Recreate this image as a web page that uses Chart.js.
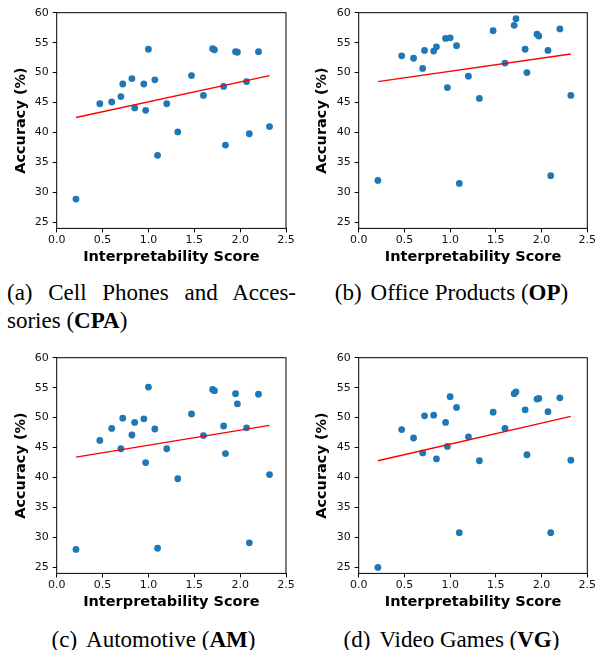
<!DOCTYPE html>
<html><head><meta charset="utf-8">
<script src="https://cdn.jsdelivr.net/npm/chart.js@4.4.0/dist/chart.umd.min.js"></script>
<style>
html,body{margin:0;padding:0;background:#fff;}
body{width:603px;height:650px;position:relative;overflow:hidden;}
canvas{position:absolute;}
.cap{position:absolute;font-family:"Liberation Serif","Times New Roman",serif;font-size:23px;line-height:28px;color:#000;white-space:nowrap;}
.gap{display:inline-block;width:9px;}
</style></head><body>
<canvas id="c1" width="300" height="266" style="left:0;top:0"></canvas>
<canvas id="c2" width="303" height="266" style="left:300px;top:0"></canvas>
<canvas id="c3" width="300" height="266" style="left:0;top:344.6px"></canvas>
<canvas id="c4" width="303" height="266" style="left:300px;top:344.6px"></canvas>

<div class="cap" style="left:7px;top:279px;width:289px;text-align:justify;text-align-last:justify;">(a) Cell Phones and Acces-</div>
<div class="cap" style="left:7px;top:307px;">sories (<b>CPA</b>)</div>
<div class="cap" style="left:300px;top:279px;width:303px;text-align:center;">(b)<span class="gap"></span>Office Products (<b>OP</b>)</div>
<div class="cap" style="left:0;top:625.5px;width:307px;text-align:center;">(c)<span class="gap"></span>Automotive (<b>AM</b>)</div>
<div class="cap" style="left:300px;top:625.5px;width:303px;text-align:center;">(d)<span class="gap"></span>Video Games (<b>VG</b>)</div>

<script>
// Interpretability scores (shared x values for all four panels)
const xScores = [0.21,0.47,0.60,0.70,0.72,0.82,0.85,0.95,0.97,1.00,1.07,1.10,1.20,1.32,1.47,1.60,1.70,1.72,1.82,1.84,1.95,1.97,2.07,2.10,2.20,2.32];
// Accuracy (%) per dataset
const accCPA = [28.9,44.8,45.1,46.0,48.1,49.0,44.1,48.1,43.7,53.9,48.8,36.2,44.8,40.1,49.5,46.2,54.0,53.8,47.7,37.9,53.5,53.4,48.5,39.8,53.5,41.0];
const accOP  = [32.0,52.8,52.4,50.7,53.7,53.6,54.3,55.7,47.5,55.8,54.5,31.5,49.4,45.7,57.0,51.6,57.9,59.0,53.9,50.0,56.4,56.1,53.7,32.8,57.3,46.2];
const accAM  = [28.0,46.2,48.2,44.8,49.9,47.1,49.2,49.8,42.5,55.1,48.1,28.2,44.8,39.8,50.6,47.0,54.7,54.5,48.6,44.0,54.0,52.3,48.3,29.1,53.9,40.5];
const accVG  = [25.0,48.0,46.6,44.1,50.3,50.4,43.1,49.2,45.2,53.5,51.7,30.8,46.8,42.8,50.9,48.2,54.0,54.3,51.3,43.8,53.1,53.2,51.0,30.8,53.3,42.9];
// Fitted trend line end points
const trendX   = [0.21, 2.32];
const trendCPA = [42.5, 49.5];
const trendOP  = [48.5, 53.1];
const trendAM  = [43.4, 48.7];
const trendVG  = [42.8, 50.2];
// Axis ticks
const xTicks = [0.0,0.5,1.0,1.5,2.0,2.5];
const yTicks = [25,30,35,40,45,50,55,60];
const xLabel = 'Interpretability Score';
const yLabel = 'Accuracy (%)';

const frame = {
  id:'frame',
  afterDatasetsDraw(chart){
    const {ctx, chartArea:a} = chart;
    ctx.save();
    ctx.strokeStyle = '#000';
    ctx.lineWidth = 1;
    ctx.strokeRect(a.left, a.top, a.right - a.left, a.bottom - a.top);
    ctx.restore();
  }
};

function makeChart(id, ys, trendY, g){
  const pts = xScores.map((x,i)=>({x:x, y:ys[i]}));
  const line = trendX.map((x,i)=>({x:x, y:trendY[i]}));
  const tickFont = {family:'DejaVu Sans', size:11};
  const titleFont = {family:'DejaVu Sans', size:14.5, weight:'bold'};
  const grid = {drawOnChartArea:false, drawTicks:true, tickLength:4, tickColor:'#000', color:'#000', lineWidth:1};
  return new Chart(document.getElementById(id), {
    type:'scatter',
    data:{datasets:[
      {type:'line', data:line, borderColor:'#ff0000', borderWidth:1.4, pointRadius:0, fill:false, order:0},
      {type:'scatter', data:pts, backgroundColor:'#1f77b4', borderColor:'#1f77b4', borderWidth:0, pointRadius:3.4, order:1}
    ]},
    options:{
      responsive:false, animation:false,
      layout:{padding:{top:12.7, right:g.right, left:0, bottom:0}},
      plugins:{legend:{display:false}, tooltip:{enabled:false}},
      scales:{
        x:{type:'linear', min:0, max:2.5,
          afterBuildTicks:s=>{s.ticks = xTicks.map(v=>({value:v}));},
          afterFit:s=>{s.height = g.xh;},
          ticks:{callback:v=>Number(v).toFixed(1), font:tickFont, color:'#111', padding:1, maxRotation:0, autoSkip:false},
          grid:grid, border:{display:false},
          title:{display:true, text:xLabel, font:titleFont, color:'#000', padding:{top:0,bottom:0}}
        },
        y:{type:'linear', min:24, max:60,
          afterBuildTicks:s=>{s.ticks = yTicks.map(v=>({value:v}));},
          afterFit:s=>{s.width = g.yw;},
          ticks:{font:tickFont, color:'#111', padding:4, autoSkip:false},
          grid:grid, border:{display:false},
          title:{display:true, text:yLabel, font:titleFont, color:'#000', padding:{top:g.ytp,bottom:0}}
        }
      }
    },
    plugins:[frame]
  });
}

makeChart('c1', accCPA, trendCPA, {yw:56.7, right:14,   xh:37.6, ytp:12.3});
makeChart('c2', accOP,  trendOP,  {yw:58.7, right:15.7, xh:37.6, ytp:14.0});
makeChart('c3', accAM,  trendAM,  {yw:56.7, right:14,   xh:37.6, ytp:12.3});
makeChart('c4', accVG,  trendVG,  {yw:58.7, right:15.7, xh:37.6, ytp:14.0});
</script>
</body></html>
